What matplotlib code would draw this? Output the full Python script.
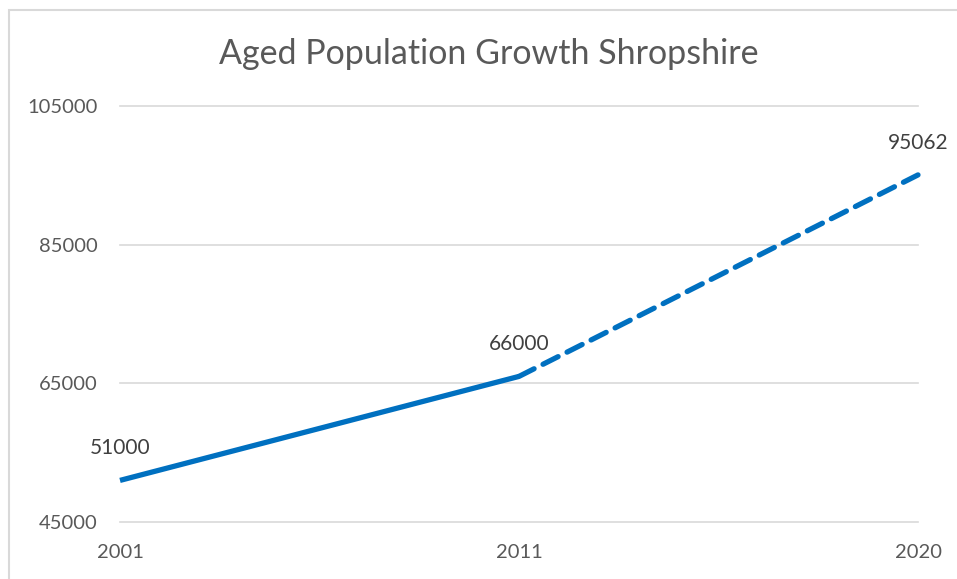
import matplotlib.pyplot as plt
from matplotlib.patches import Rectangle

# Data
years = ['2001', '2011', '2020']
population = [51000, 66000, 95062]
y_ticks = [45000, 65000, 85000, 105000]

blue = '#0070C0'
grey_text = '#595959'

plt.rcParams['font.family'] = ['Lato', 'DejaVu Sans']

fig = plt.figure(figsize=(9.57, 5.79), dpi=100)
ax = fig.add_axes([120 / 957, 1 - 522 / 579, (918 - 120) / 957, (522 - 106) / 579])

x = list(range(len(years)))
# actual (solid) and projected (dashed) parts
ax.plot(x[:2], population[:2], color=blue, lw=3.8, solid_capstyle='butt', clip_on=False)
ax.plot(x[1:], population[1:], color=blue, lw=3.8, linestyle=(0, (3.2, 1.9)),
        dash_capstyle='round', clip_on=False)

for xi, v in zip(x, population):
    ax.annotate(str(v), (xi, v), xytext=(0, 23), textcoords='offset points',
                ha='center', va='center', fontsize=15, color='#404040')

ax.set_xlim(0, 2)
ax.set_ylim(45000, 105000)
ax.set_yticks(y_ticks)
ax.set_yticklabels([str(t) for t in y_ticks])
ax.set_xticks(x)
ax.set_xticklabels(years)
ax.tick_params(axis='y', length=0, pad=16, labelsize=14.5, labelcolor=grey_text)
ax.tick_params(axis='x', length=0, pad=16, labelsize=14.5, labelcolor=grey_text)

ax.grid(axis='y', color='#D9D9D9', lw=1.2, clip_on=False)
ax.set_axisbelow(True)
for s in ax.spines.values():
    s.set_visible(False)

fig.text(489 / 957, 1 - 54 / 579, 'Aged Population Growth Shropshire', ha='center', va='center',
         fontsize=24.5, color=grey_text)

# chart frame
fig.patches.append(Rectangle((9 / 957, -0.1), 1.2, 1 - 10 / 579 + 0.1, transform=fig.transFigure,
                             fill=False, edgecolor='#D9D9D9', lw=1.5))

fig.savefig('out.png', dpi=100)
